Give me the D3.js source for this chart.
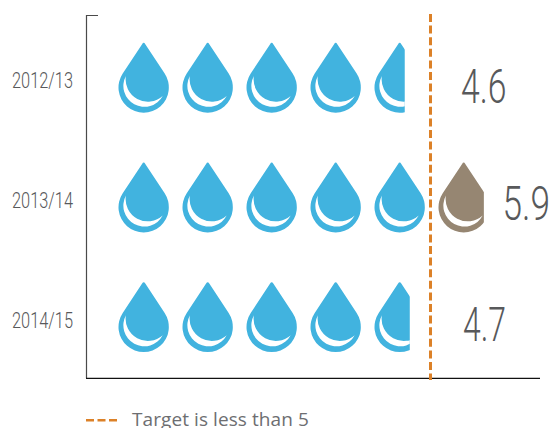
<!DOCTYPE html>
<html>
<head>
<meta charset="utf-8">
<script src="https://cdn.jsdelivr.net/npm/d3@7/dist/d3.min.js"></script>
<style>
html,body{margin:0;padding:0;background:#fff}
svg{display:block}
</style>
</head>
<body>
<svg id="chart" width="553" height="428"></svg>
<script>
// Water use per year, one drop per unit; the last drop is cut at the fraction.
const years = ["2012/13", "2013/14", "2014/15"];
const values = [4.6, 5.9, 4.7];
const valueLabels = ["4.6", "5.9", "4.7"];
const target = 5;
const legendText = "Target is less than 5";

const BLUE = "#41b3df", BROWN = "#968672", ORANGE = "#dc8128";

const svg = d3.select("#chart");
const x = d3.scaleLinear().domain([0, 6.75]).range([110.5, 542.5]);
const y = d3.scalePoint().domain(years).range([87.5, 326.9]);

const dropW = 50.4, dropInset = 8;

// Teardrop with its round belly centred on the origin, plus the white crescent.
function dropPath() {
  const r = 25.2, tip = 45.5;
  const ty = -r * r / tip, tx = r * Math.sqrt(1 - (r * r) / (tip * tip));
  const p = d3.path();
  p.moveTo(-1.6, -tip + 2.2);
  p.quadraticCurveTo(0, -tip - 0.6, 1.6, -tip + 2.2);
  p.lineTo(tx, ty);
  p.arc(0, 0, r, Math.atan2(ty, tx), Math.atan2(ty, -tx), false);
  p.closePath();
  return p.toString();
}
const crescentPath = "M-17.8,-11.6 A20.9,20.9 0 1 0 19,8.4 A22.2,22.2 0 0 1 -17.8,-11.6 Z";

const defs = svg.append("defs");
const drops = [];
values.forEach((v, row) => {
  for (let i = 0; i < Math.ceil(v); i++) {
    drops.push({ row, i, frac: Math.min(1, v - i), over: i >= target });
  }
});

const g = svg.append("g");
drops.forEach((d, k) => {
  const left = x(d.i) + dropInset;
  const cx = left + dropW / 2, cy = y(years[d.row]);
  const id = "cut" + k;
  defs.append("clipPath").attr("id", id).append("rect")
    .attr("x", left - 1).attr("y", cy - 50)
    .attr("width", d.frac * dropW + 1).attr("height", 100);
  const mark = g.append("g").attr("clip-path", `url(#${id})`)
    .append("g").attr("transform", `translate(${cx},${cy})`);
  mark.append("path").attr("d", dropPath()).attr("fill", d.over ? BROWN : BLUE);
  mark.append("path").attr("d", crescentPath).attr("fill", "#fff");
});

// Axes: left rule with a top tick, and the baseline
svg.append("path").attr("d", "M98,15.5H86.5V378").attr("fill", "none")
  .attr("stroke", "#4a4a4a").attr("stroke-width", 1.2);
svg.append("line").attr("x1", 86).attr("x2", 540).attr("y1", 378.3).attr("y2", 378.3)
  .attr("stroke", "#111").attr("stroke-width", 1.2);

// Target line
svg.append("line").attr("x1", x(target)).attr("x2", x(target)).attr("y1", 14).attr("y2", 380)
  .attr("stroke", ORANGE).attr("stroke-width", 3).attr("stroke-dasharray", "8 3.6");

// Year labels, squeezed into a condensed width
svg.selectAll(".year").data(years).join("text")
  .attr("class", "year")
  .attr("x", 12).attr("y", d => y(d) + 0.8)
  .attr("textLength", 61).attr("lengthAdjust", "spacingAndGlyphs")
  .attr("font-family", "Roboto,sans-serif").attr("font-weight", 300)
  .attr("font-size", 22).attr("fill", "#58595b")
  .text(d => d);

// Value labels, also condensed
const valueX = [461, 502.5, 463];
const valueW = [45.5, 47.5, 43];
const valueBase = [102.5, 220, 340.5];
svg.selectAll(".val").data(valueLabels).join("text")
  .attr("class", "val")
  .attr("x", (d, i) => valueX[i]).attr("y", (d, i) => valueBase[i])
  .attr("textLength", (d, i) => valueW[i]).attr("lengthAdjust", "spacingAndGlyphs")
  .attr("font-family", "Roboto,sans-serif").attr("font-weight", 300)
  .attr("font-size", 47.5).attr("fill", "#58595b")
  .text(d => d);

// Legend
svg.append("line").attr("x1", 86).attr("x2", 117).attr("y1", 420.3).attr("y2", 420.3)
  .attr("stroke", ORANGE).attr("stroke-width", 2.6).attr("stroke-dasharray", "8 3.5");
svg.append("text").attr("x", 132).attr("y", 425.5)
  .attr("font-family", "'Open Sans',sans-serif").attr("font-size", 19)
  .attr("letter-spacing", 0.08).attr("fill", "#6d6e71")
  .text(legendText);
</script>
</body>
</html>
